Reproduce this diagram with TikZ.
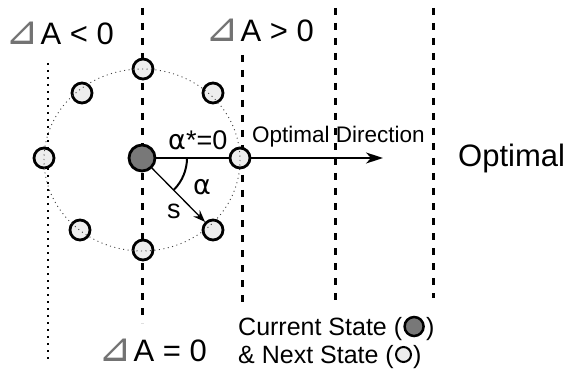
\documentclass[tikz,border=0pt]{standalone}
\usepackage{fontspec}
\setmainfont{Liberation Sans}
\newfontfamily\trifont{DejaVu Sans}
\usetikzlibrary{arrows.meta}
\newcommand\tri{{\trifont\fontsize{40}{40}\selectfont\color{black!55}⊿}\kern2pt}
\newcommand\galpha{{\trifont α}}
\begin{document}
\begin{tikzpicture}[x=1pt,y=-1pt,
  vline/.style={line width=3pt, dash pattern=on 7pt off 8pt},
  dotline/.style={line width=2.2pt, dash pattern=on 2pt off 5pt},
  ring/.style={line width=0.9pt, black!75, dash pattern=on 1pt off 3.5pt},
  nextst/.style={circle, draw, line width=2.8pt, fill=black!7, minimum size=20pt, inner sep=0pt},
  curst/.style={circle, draw, line width=2.8pt, fill=black!53, minimum size=26pt, inner sep=0pt},
  lbl/.style={inner sep=0pt, anchor=base west},
  big/.style={font=\fontsize{31}{31}\selectfont},
  mid/.style={font=\fontsize{27}{27}\selectfont},
  leg/.style={font=\fontsize{25}{25}\selectfont}]
\useasboundingbox (0,0) rectangle (569,371);
% vertical lines
\draw[dotline] (48,63) -- (48,360);
\draw[vline] (142,8) -- (142,323);
\draw[vline] (242,55) -- (242,305);
\draw[vline] (335,8) -- (335,305);
\draw[vline] (433,8) -- (433,298);
% labels
\node[lbl,big] (ltz) at (5,45) {\tri A < 0};
\node[lbl,big] (gtz) at (205,42) {\tri A > 0};
\node[lbl,big] (eqz) at (98,361) {\tri A = 0};
\node[lbl,big] (opt) at (458,167) {Optimal};
\node[lbl,font=\fontsize{22.5}{22.5}\selectfont] (odl) at (252,143) {Optimal Direction};
% states
\node[curst] (c) at (142,158) {};
\node[nextst] (r) at (240,158) {};
\node[nextst] (tr) at (213,93) {};
\node[nextst] (t) at (143,69) {};
\node[nextst] (tl) at (82,93) {};
\node[nextst] (l) at (44,158) {};
\node[nextst] (bl) at (80,230) {};
\node[nextst] (b) at (143,250) {};
\node[nextst] (br) at (213,230) {};
\coordinate (od) at (383,158);
\draw[line width=1.8pt] (c.east) -- (r.west);
\draw[line width=1.8pt, -{Stealth[length=17pt,width=11pt,inset=5pt]}] (r.east) -- (od);
\draw[line width=1.3pt, -{Stealth[length=12pt,width=9pt,inset=4pt]}] (c) -- (br);
\draw[ring] (142,160) ellipse [x radius=98, y radius=91];
\draw[line width=2pt] ([shift={(0:45)}]c.center) arc [start angle=0, end angle=45, radius=45];
\node[lbl,mid] (astar) at (168,150) {\galpha*=0};
\node[lbl,mid] (alpha) at (193,195) {\galpha};
\node[lbl,mid] (s) at (167,218) {s};
% legend
\node[lbl,leg] (cur) at (238,335) {Current State (};
\node[curst, minimum size=19pt, line width=2.5pt, anchor=west] (curc) at ([xshift=1pt,yshift=8.5pt]cur.base east) {};
\node[lbl,leg] (curp) at ([xshift=1pt]curc.east |- cur.base) {)};
\node[lbl,leg] (nxt) at (238,363) {\& Next State (};
\node[nextst, minimum size=15pt, line width=2pt, anchor=west] (nxtc) at ([xshift=1pt,yshift=8.5pt]nxt.base east) {};
\node[lbl,leg] (nxtp) at ([xshift=1pt]nxtc.east |- nxt.base) {)};
\end{tikzpicture}
\end{document}
